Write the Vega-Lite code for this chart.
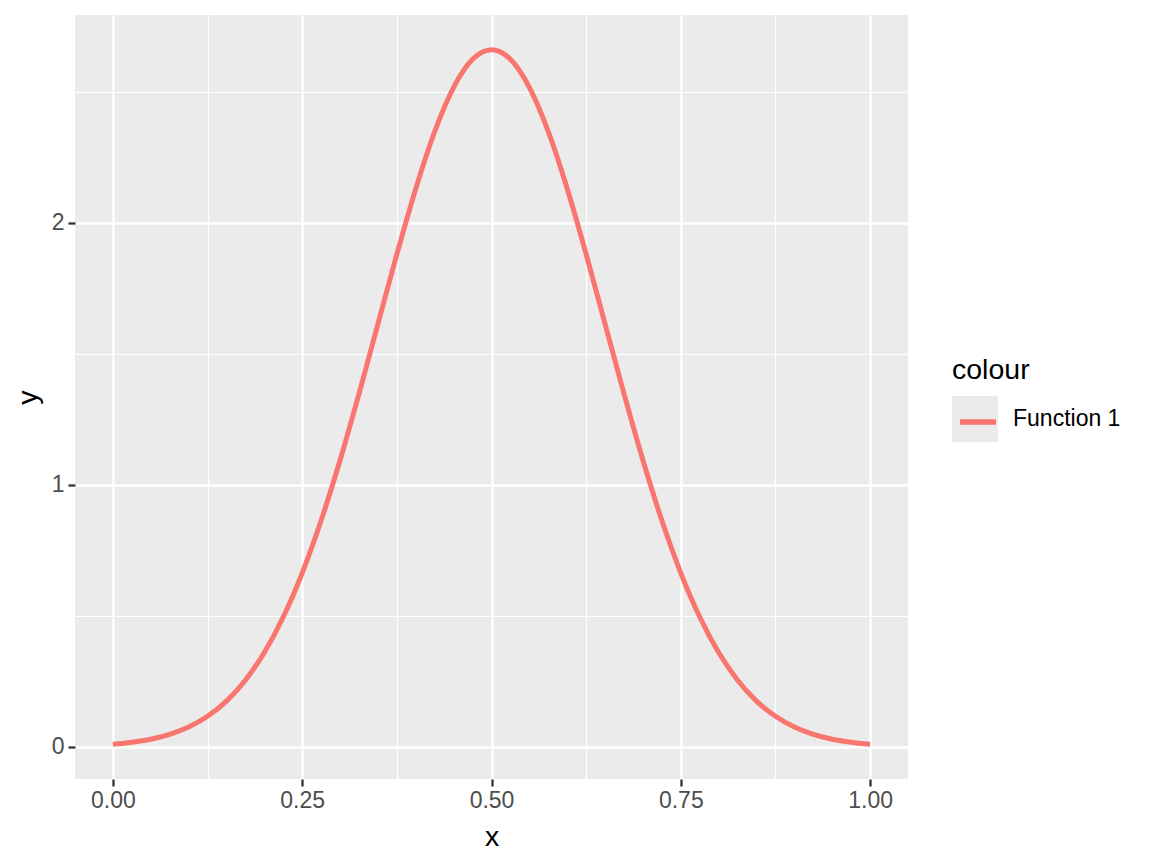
{
  "$schema": "https://vega.github.io/schema/vega-lite/v6.json",
  "width": 833,
  "height": 764,
  "autosize": {"type": "none"},
  "padding": {"left": 75, "top": 15, "right": 244, "bottom": 85},
  "background": "white",
  "config": {
    "view": {"fill": "#EBEBEB", "stroke": null},
    "font": "Liberation Sans",
    "axis": {"domain": false, "gridColor": "white", "labelFontSize": 23, "labelColor": "#4D4D4D", "titleFontSize": 28.5, "titleFontWeight": "normal", "titleColor": "black"},
    "legend": {"titleFontSize": 28.5, "titleFontWeight": "normal", "labelFontSize": 23}
  },
  "data": {
    "values": [
      {"x": 0.000, "y": 0.0103, "series": "Function 1"},
      {"x": 0.025, "y": 0.0177, "series": "Function 1"},
      {"x": 0.050, "y": 0.0295, "series": "Function 1"},
      {"x": 0.075, "y": 0.0480, "series": "Function 1"},
      {"x": 0.100, "y": 0.0760, "series": "Function 1"},
      {"x": 0.125, "y": 0.1169, "series": "Function 1"},
      {"x": 0.150, "y": 0.1748, "series": "Function 1"},
      {"x": 0.175, "y": 0.2544, "series": "Function 1"},
      {"x": 0.200, "y": 0.3599, "series": "Function 1"},
      {"x": 0.225, "y": 0.4954, "series": "Function 1"},
      {"x": 0.250, "y": 0.6632, "series": "Function 1"},
      {"x": 0.275, "y": 0.8634, "series": "Function 1"},
      {"x": 0.300, "y": 1.0934, "series": "Function 1"},
      {"x": 0.325, "y": 1.3467, "series": "Function 1"},
      {"x": 0.350, "y": 1.6131, "series": "Function 1"},
      {"x": 0.375, "y": 1.8795, "series": "Function 1"},
      {"x": 0.400, "y": 2.1296, "series": "Function 1"},
      {"x": 0.425, "y": 2.3471, "series": "Function 1"},
      {"x": 0.450, "y": 2.5159, "series": "Function 1"},
      {"x": 0.475, "y": 2.6229, "series": "Function 1"},
      {"x": 0.500, "y": 2.6596, "series": "Function 1"},
      {"x": 0.525, "y": 2.6229, "series": "Function 1"},
      {"x": 0.550, "y": 2.5159, "series": "Function 1"},
      {"x": 0.575, "y": 2.3471, "series": "Function 1"},
      {"x": 0.600, "y": 2.1296, "series": "Function 1"},
      {"x": 0.625, "y": 1.8795, "series": "Function 1"},
      {"x": 0.650, "y": 1.6131, "series": "Function 1"},
      {"x": 0.675, "y": 1.3467, "series": "Function 1"},
      {"x": 0.700, "y": 1.0934, "series": "Function 1"},
      {"x": 0.725, "y": 0.8634, "series": "Function 1"},
      {"x": 0.750, "y": 0.6632, "series": "Function 1"},
      {"x": 0.775, "y": 0.4954, "series": "Function 1"},
      {"x": 0.800, "y": 0.3599, "series": "Function 1"},
      {"x": 0.825, "y": 0.2544, "series": "Function 1"},
      {"x": 0.850, "y": 0.1748, "series": "Function 1"},
      {"x": 0.875, "y": 0.1169, "series": "Function 1"},
      {"x": 0.900, "y": 0.0760, "series": "Function 1"},
      {"x": 0.925, "y": 0.0480, "series": "Function 1"},
      {"x": 0.950, "y": 0.0295, "series": "Function 1"},
      {"x": 0.975, "y": 0.0177, "series": "Function 1"},
      {"x": 1.000, "y": 0.0103, "series": "Function 1"}
    ]
  },
  "resolve": {"axis": {"x": "independent", "y": "independent"}},
  "layer": [
    {
      "mark": {"type": "point", "filled": true, "opacity": 0, "color": "#EBEBEB"},
      "encoding": {
        "x": {
          "field": "x", "type": "quantitative",
          "scale": {"domain": [-0.05, 1.05], "nice": false, "zero": false},
          "axis": {"orient": "bottom", "values": [0.125, 0.375, 0.625, 0.875], "grid": true, "gridWidth": 1.2, "labels": false, "ticks": false, "title": null}
        },
        "y": {
          "field": "y", "type": "quantitative",
          "scale": {"domain": [-0.1224, 2.792], "nice": false, "zero": false},
          "axis": {"orient": "left", "values": [0.5, 1.5, 2.5], "grid": true, "gridWidth": 1.2, "labels": false, "ticks": false, "title": null}
        },
        "shape": {
          "field": "series", "type": "nominal",
          "scale": {"domain": ["Function 1"], "range": ["square"]},
          "legend": {
            "orient": "none", "legendX": 877, "legendY": 340.5, "padding": 0,
            "title": "colour", "titleFontSize": 28.5, "titleFontWeight": "normal", "titleColor": "black", "titlePadding": 12,
            "symbolSize": 2116, "symbolFillColor": "#EBEBEB", "symbolStrokeColor": "#EBEBEB", "symbolStrokeWidth": 0, "symbolOpacity": 1,
            "labelFontSize": 23, "labelColor": "black", "labelOffset": 15, "zindex": 0
          }
        }
      }
    },
    {
      "mark": {"type": "line", "strokeWidth": 5, "interpolate": "monotone", "strokeCap": "butt"},
      "encoding": {
        "x": {
          "field": "x", "type": "quantitative",
          "scale": {"domain": [-0.05, 1.05], "nice": false, "zero": false},
          "axis": {"orient": "bottom", "values": [0, 0.25, 0.5, 0.75, 1], "format": ".2f", "grid": true, "gridWidth": 2.3,
            "tickColor": "#333333", "tickSize": 7, "tickWidth": 2.3, "labelFontSize": 23, "labelColor": "#4D4D4D", "labelPadding": 3,
            "title": "x", "titleFontSize": 28.5, "titleFontWeight": "normal", "titleColor": "black", "titlePadding": 10}
        },
        "y": {
          "field": "y", "type": "quantitative",
          "scale": {"domain": [-0.1224, 2.792], "nice": false, "zero": false},
          "axis": {"orient": "left", "values": [0, 1, 2], "format": "d", "grid": true, "gridWidth": 2.3,
            "tickColor": "#333333", "tickSize": 7, "tickWidth": 2.3, "labelFontSize": 23, "labelColor": "#4D4D4D", "labelPadding": 4,
            "title": "y", "titleFontSize": 28.5, "titleFontWeight": "normal", "titleColor": "black", "titlePadding": 9}
        },
        "color": {
          "field": "series", "type": "nominal",
          "scale": {"range": ["#F8766D"]},
          "legend": {
            "orient": "none", "legendX": 877, "legendY": 386, "padding": 0,
            "title": null,
            "symbolType": "stroke", "symbolSize": 1296, "symbolStrokeWidth": 5.5, "symbolOffset": 5,
            "labelExpr": "''", "labelFontSize": 23, "labelOffset": 20, "zindex": 1
          }
        }
      }
    }
  ]
}
